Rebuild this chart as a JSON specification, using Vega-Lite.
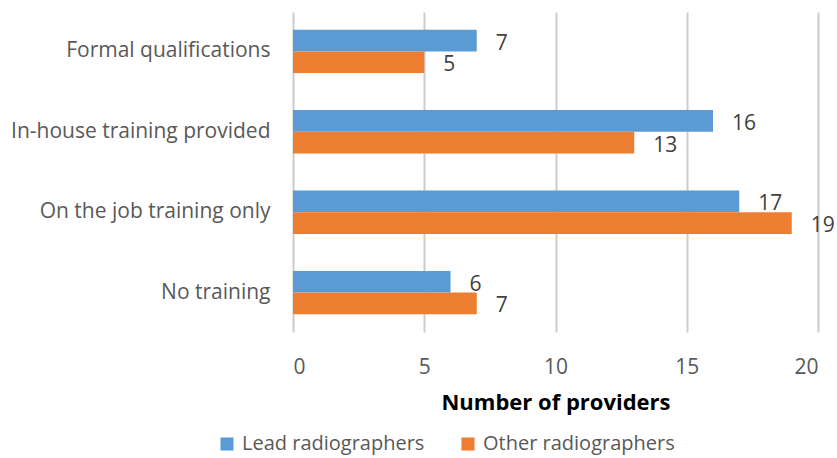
{
  "$schema": "https://vega.github.io/schema/vega-lite/v6.json",
  "autosize": "none",
  "width": 525,
  "height": 320,
  "padding": {"left": 293, "top": 12, "right": 19, "bottom": 126},
  "background": "white",
  "config": {
    "view": {"stroke": null},
    "font": "Open Sans"
  },
  "data": {
    "values": [
      {"category": "Formal qualifications", "group": "Lead radiographers", "value": 7},
      {"category": "Formal qualifications", "group": "Other radiographers", "value": 5},
      {"category": "In-house training provided", "group": "Lead radiographers", "value": 16},
      {"category": "In-house training provided", "group": "Other radiographers", "value": 13},
      {"category": "On the job training only", "group": "Lead radiographers", "value": 17},
      {"category": "On the job training only", "group": "Other radiographers", "value": 19},
      {"category": "No training", "group": "Lead radiographers", "value": 6},
      {"category": "No training", "group": "Other radiographers", "value": 7}
    ]
  },
  "encoding": {
    "y": {
      "field": "category", "type": "nominal",
      "sort": ["Formal qualifications", "In-house training provided", "On the job training only", "No training"],
      "scale": {"paddingInner": 0.46, "paddingOuter": 0.22},
      "axis": {"title": null, "ticks": false, "domain": false, "labelPadding": 23, "labelFontSize": 21, "labelColor": "#595959", "labelLimit": 0}
    },
    "x": {
      "field": "value", "type": "quantitative",
      "scale": {"domain": [0, 20], "nice": false},
      "axis": {
        "title": "Number of providers", "titleFontSize": 22, "titleFontWeight": "bold", "titleColor": "#000000", "titlePadding": 15,
        "values": [0, 5, 10, 15, 20], "ticks": false, "domain": false, "labelPadding": 24, "labelFontSize": 21, "labelColor": "#595959",
        "grid": true, "gridColor": "#cccccc", "gridWidth": 2
      }
    },
    "yOffset": {"field": "group", "type": "nominal", "sort": ["Lead radiographers", "Other radiographers"]}
  },
  "layer": [
    {
      "mark": {"type": "bar"},
      "encoding": {
        "color": {
          "field": "group", "type": "nominal",
          "scale": {"domain": ["Lead radiographers", "Other radiographers"], "range": ["#5B9BD5", "#ED7D31"]},
          "legend": {
            "title": null, "orient": "none", "direction": "horizontal", "legendX": -76, "legendY": 422,
            "symbolType": "square", "symbolSize": 170, "symbolStrokeWidth": 0, "labelFontSize": 20, "labelColor": "#595959",
            "labelLimit": 0, "columnPadding": 33, "labelOffset": 5
          }
        }
      }
    },
    {
      "mark": {"type": "text", "align": "left", "baseline": "middle", "dx": 19, "dy": 3, "fontSize": 21, "color": "#404040"},
      "encoding": {"text": {"field": "value", "type": "quantitative"}}
    }
  ]
}
